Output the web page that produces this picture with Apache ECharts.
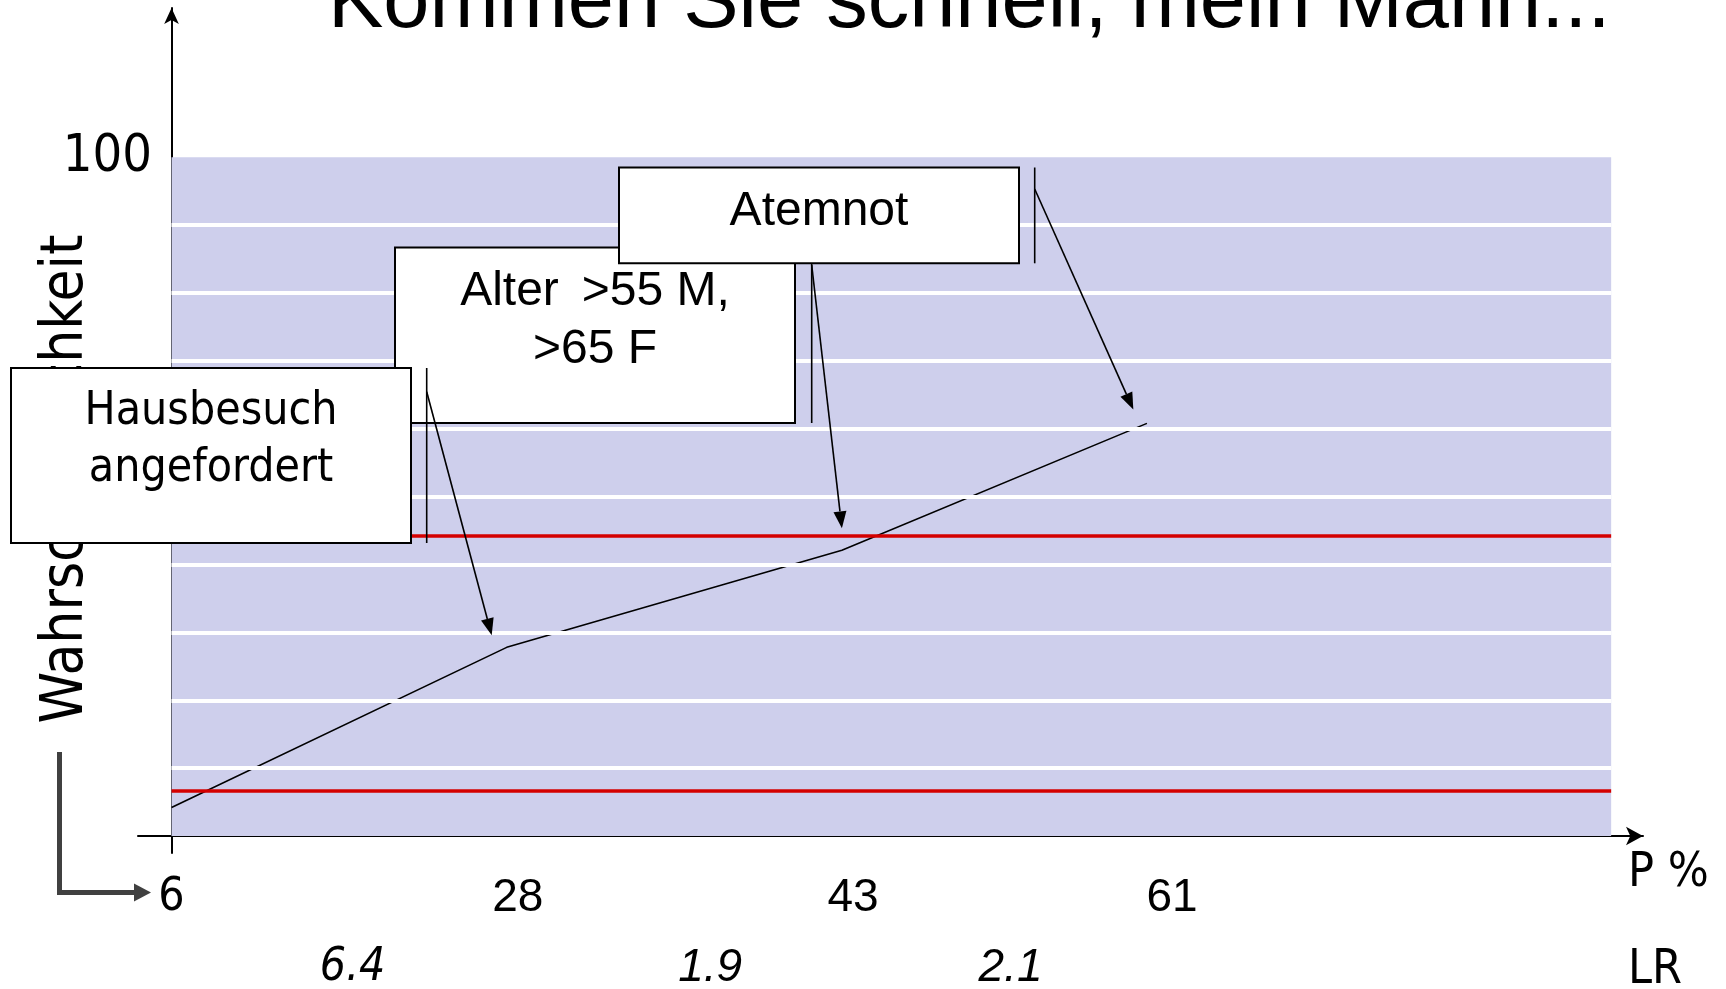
<!DOCTYPE html>
<html>
<head>
<meta charset="utf-8">
<style>html,body{margin:0;padding:0;background:#fff}#chart{width:1726px;height:989px}</style>
<script src="https://cdn.jsdelivr.net/npm/echarts@6/dist/echarts.min.js"></script>
</head>
<body>
<div id="chart"></div>
<script>
// x is measured in "steps": 0 = pre-test, then one step per finding
const stepX = [0, 1, 2, 2.91];
const probability = [4.2, 27.8, 42.1, 60.8];
const pTickX = [0, 1.033, 2.033, 2.985];
const pTickLabels = ['6', '28', '43', '61'];
const lrTickX = [0.54, 1.607, 2.503];
const lrTickLabels = ['6.4', '1.9', '2.1'];
const yTickValues = [100];
const yTickLabels = ['100'];
const stripeValues = [10, 20, 30, 40, 50, 60, 70, 80, 90];
const thresholds = [44.2, 6.6];
const findings = ['Hausbesuch\nangefordert', 'Alter\u2009 >55 M,\n>65 F', 'Atemnot'];
const plotEnd = 4.295;

const ARIAL = '"Liberation Sans", Arial, sans-serif';
const TAHOMA = '"DejaVu Sans Condensed", "DejaVu Sans", sans-serif';

const points = stepX.map((x, i) => [x, probability[i]]);

function nearest(arr, v) {
  let best = 0;
  arr.forEach((a, i) => { if (Math.abs(a - v) < Math.abs(arr[best] - v)) best = i; });
  return best;
}

var chart = echarts.init(document.getElementById('chart'));

chart.setOption({
  animation: false,
  title: {
    text: 'Kommen Sie schnell, mein Mann...',
    left: 328, top: -37, padding: 0,
    textStyle: {fontSize: 83, fontWeight: 'normal', fontFamily: ARIAL, color: '#000'}
  },
  grid: {left: 138, right: 83, top: 8, bottom: 136, containLabel: false, outerBoundsMode: 'none'},
  xAxis: [
    {
      type: 'value', min: -0.1, max: 4.39,
      axisLine: {onZero: true, symbol: ['none', 'arrow'], symbolSize: [14, 17], lineStyle: {color: '#000', width: 2}},
      axisTick: {show: false},
      splitLine: {show: false},
      axisLabel: {
        customValues: pTickX, margin: 22, color: '#000', fontFamily: ARIAL, fontSize: 46,
        formatter: (v) => {
          const i = nearest(pTickX, v);
          return i === 0 ? '{t|' + pTickLabels[i] + '}' : pTickLabels[i];
        },
        rich: {t: {fontFamily: TAHOMA, fontSize: 46, color: '#000'}}
      },
      name: 'P %', nameLocation: 'end', nameGap: -15,
      nameTextStyle: {fontFamily: TAHOMA, fontSize: 48, color: '#000', align: 'left', verticalAlign: 'top', padding: [13, 0, 0, 0]}
    },
    {
      type: 'value', min: -0.1, max: 4.39, position: 'bottom',
      axisLine: {show: false, onZero: false},
      axisTick: {show: false},
      splitLine: {show: false},
      axisLabel: {
        customValues: lrTickX, margin: 92, color: '#000', fontFamily: ARIAL, fontSize: 46, fontStyle: 'italic',
        formatter: (v) => {
          const i = nearest(lrTickX, v);
          return i === 0 ? '{t|' + lrTickLabels[i] + '}' : lrTickLabels[i];
        },
        rich: {t: {fontFamily: TAHOMA, fontSize: 46, fontStyle: 'italic', color: '#000'}}
      },
      name: 'LR', nameLocation: 'end', nameGap: -15,
      nameTextStyle: {fontFamily: TAHOMA, fontSize: 48, color: '#000', align: 'left', verticalAlign: 'top', padding: [94, 0, 0, 0]}
    }
  ],
  yAxis: {
    type: 'value', min: -2.5, max: 122,
    axisLine: {onZero: true, symbol: ['none', 'arrow'], symbolSize: [11, 16], lineStyle: {color: '#000', width: 2}},
    axisTick: {show: false},
    splitLine: {show: false},
    axisLabel: {
      customValues: yTickValues, margin: -14, color: '#000', fontFamily: TAHOMA, fontSize: 52,
      padding: [6, 0, 0, 0],
      formatter: (v) => yTickLabels[nearest(yTickValues, v)]
    }
  },
  series: [
    {
      name: 'background', type: 'line', data: [], z: 1, silent: true,
      markArea: {
        silent: true,
        itemStyle: {color: '#CECFEC'},
        data: [[{coord: [0, 0]}, {coord: [plotEnd, 100]}]]
      },
      markLine: {
        silent: true, symbol: ['none', 'none'], label: {show: false},
        lineStyle: {color: '#fff', width: 4, type: 'solid'},
        data: stripeValues.map(v => [{coord: [0, v]}, {coord: [plotEnd, v]}])
      }
    },
    {
      name: 'thresholds', type: 'line', data: [], z: 2, silent: true,
      markLine: {
        silent: true, symbol: ['none', 'none'], label: {show: false},
        lineStyle: {color: '#D40000', width: 3.5, type: 'solid'},
        data: thresholds.map(v => [{coord: [0, v]}, {coord: [plotEnd, v]}])
      }
    },
    {
      name: 'P', type: 'line', data: points, z: 3, silent: true,
      symbol: 'none',
      lineStyle: {color: '#000', width: 1.6}
    }
  ]
});

// callout boxes with accent bar and arrow pointing at the line
const px = points.map(p => chart.convertToPixel({xAxisIndex: 0, yAxisIndex: 0}, p));

function arrowHead(from, to, len, half) {
  const dx = to[0] - from[0], dy = to[1] - from[1];
  const d = Math.hypot(dx, dy);
  const ux = dx / d, uy = dy / d;
  const base = [to[0] - ux * len, to[1] - uy * len];
  return {
    base: base,
    poly: [to, [base[0] - uy * half, base[1] + ux * half], [base[0] + uy * half, base[1] - ux * half]]
  };
}

function callout(box, text, family, size, lh, textY, barX, from, tip, z) {
  const head = arrowHead(from, tip, 17, 6.5);
  return [
    {type: 'rect', z: z, shape: {x: box[0], y: box[1], width: box[2], height: box[3]},
      style: {fill: '#fff', stroke: '#000', lineWidth: 2}},
    {type: 'text', z: z + 0.5, x: box[0] + box[2] / 2, y: textY,
      style: {text: text, fontFamily: family, fontSize: size, lineHeight: lh, fill: '#000', align: 'center', verticalAlign: 'middle'}},
    {type: 'line', z: z, shape: {x1: barX, y1: box[1], x2: barX, y2: box[1] + box[3]},
      style: {stroke: '#000', lineWidth: 1.6}},
    {type: 'line', z: z, shape: {x1: from[0], y1: from[1], x2: head.base[0], y2: head.base[1]},
      style: {stroke: '#000', lineWidth: 1.6}},
    {type: 'polygon', z: z, shape: {points: head.poly}, style: {fill: '#000'}}
  ];
}

const g = [];
g.push({type: 'text', z: 5, x: 67, y: 479, rotation: Math.PI / 2,
  style: {text: 'Wahrscheinlichkeit', fontFamily: TAHOMA, fontSize: 58, fill: '#000', align: 'center', verticalAlign: 'middle'}});
g.push({type: 'polyline', z: 5, shape: {points: [[59.5, 752], [59.5, 892.5], [136, 892.5]]},
  style: {stroke: '#404040', lineWidth: 5, fill: null}});
g.push({type: 'polygon', z: 5, shape: {points: [[134, 883.5], [151, 892.5], [134, 901.5]]}, style: {fill: '#404040'}});

g.push(...callout([395, 247.5, 400, 175.5], findings[1], ARIAL, 48, 58, 321, 811.7, [811.7, 265],
  [px[2][0], px[2][1] - 22], 10));
g.push(...callout([619, 167.5, 400, 95.8], findings[2], ARIAL, 48, 55, 212, 1034.7, [1034.7, 189],
  [px[3][0] - 13.6, px[3][1] - 13.8], 12));
g.push(...callout([11, 368, 400, 175], findings[0], TAHOMA, 46, 57, 441, 426.7, [426.7, 391.7],
  [px[1][0] - 15, px[1][1] - 12], 14));

chart.setOption({graphic: {elements: g}});
</script>
</body>
</html>
